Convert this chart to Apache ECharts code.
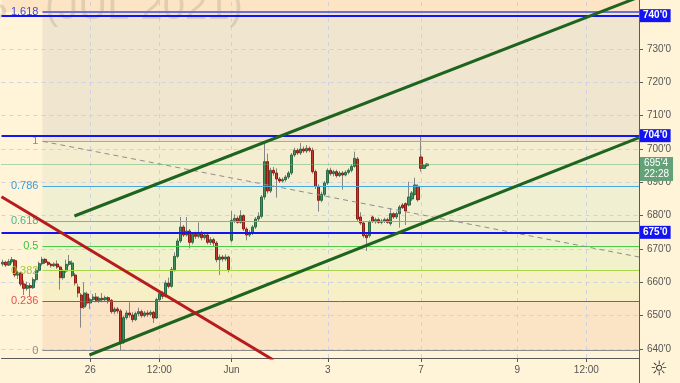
<!DOCTYPE html>
<html><head><meta charset="utf-8">
<script src="https://cdn.jsdelivr.net/npm/echarts@6/dist/echarts.min.js"></script>
<style>html,body{margin:0;padding:0;background:#FFF4D8;}#c{width:680px;height:383px;}</style>
</head><body><div id="c"></div>
<script>
// ---- data ----
// candles: [open, close, low, high]
const ohlc = [
[665.5,666.0,664.8,666.8],[666.0,665.2,664.6,666.5],[665.2,666.2,664.9,667.0],[666.2,666.8,665.6,667.6],
[666.5,662.2,661.5,667.0],[662.2,662.8,661.0,663.5],[662.8,659.5,658.8,663.2],[659.5,658.2,656.2,660.5],
[658.2,659.0,657.5,660.2],[659.0,658.4,655.8,659.8],[658.4,660.8,658.0,661.5],[660.8,663.6,660.2,664.2],
[663.6,665.6,663.0,666.2],[665.6,666.9,665.0,667.7],[666.9,666.0,665.5,667.3],[666.0,665.4,664.9,666.4],
[665.4,665.0,664.4,665.8],[665.0,665.5,664.6,666.0],[665.5,664.6,664.0,666.6],[664.6,661.4,657.8,665.0],
[661.4,663.4,660.8,664.0],[663.4,665.4,662.8,666.8],[665.4,666.2,664.8,668.2],[662.0,665.8,661.5,666.6],
[662.2,659.8,659.0,662.8],[658.6,656.8,655.5,659.6],[656.2,652.4,646.4,656.8],[652.6,656.8,652.0,660.0],
[656.5,653.8,653.0,657.2],[653.8,654.8,652.0,655.4],[654.8,655.6,654.2,656.5],[655.6,654.6,654.0,656.8],
[654.6,655.2,653.8,655.8],[655.2,654.8,654.0,656.8],[654.8,655.4,654.2,656.0],[655.4,654.6,653.6,655.8],
[654.6,651.2,650.6,655.0],[651.2,652.0,650.4,652.6],[652.0,651.4,650.6,652.6],[651.4,641.8,639.6,652.0],
[642.0,649.4,641.5,650.0],[649.4,650.8,648.8,651.6],[650.8,650.2,649.4,654.0],[650.2,648.8,648.0,651.0],
[648.8,650.6,648.4,651.2],[650.6,651.2,649.8,652.4],[651.2,650.0,649.4,651.8],[650.0,650.8,649.5,651.4],
[650.8,650.4,649.6,651.6],[650.4,651.0,649.8,651.6],[651.0,649.3,647.8,651.4],[649.3,654.8,649.0,655.4],
[654.8,656.6,654.2,657.2],[656.6,655.8,655.0,657.4],[655.8,659.8,655.4,660.6],[659.8,658.8,658.2,661.4],
[658.8,663.8,658.4,664.6],[663.8,667.8,663.2,669.0],[667.8,672.4,667.2,673.2],[672.4,676.6,671.8,679.6],
[676.6,674.2,673.6,677.2],[674.2,675.4,673.8,679.6],[675.4,672.0,670.2,676.0],[672.0,674.4,671.4,675.0],
[674.4,673.8,673.0,675.2],[673.8,674.8,673.2,678.0],[674.8,673.4,672.6,675.4],[673.4,674.2,672.8,675.0],
[674.2,672.0,671.4,674.8],[672.0,672.8,671.2,673.6],[672.8,671.8,670.6,673.4],[671.8,666.8,666.0,672.4],
[666.8,667.6,662.2,668.4],[667.6,667.0,666.2,668.2],[667.0,667.6,666.4,668.4],[667.6,663.8,663.0,668.0],
[672.6,678.6,672.0,681.4],[678.6,679.2,677.8,680.4],[679.2,678.0,677.6,679.8],[678.0,680.0,677.6,681.6],
[680.0,676.0,675.4,680.4],[676.0,674.2,672.6,676.6],[674.2,674.8,673.6,675.6],[674.8,676.6,674.2,677.2],
[676.6,679.0,676.0,679.6],[679.0,679.8,678.4,681.0],[679.8,685.6,679.2,686.2],[685.6,696.2,684.8,702.4],
[696.2,687.4,686.6,698.6],[687.4,693.6,686.8,694.4],[693.6,692.8,692.0,694.6],[692.8,691.0,685.4,694.2],
[691.0,690.4,689.8,691.6],[690.4,690.8,690.0,691.4],[690.8,691.6,690.2,692.2],[691.6,692.8,691.0,693.4],
[692.8,698.2,692.2,698.8],[698.2,699.6,697.6,700.4],[699.6,698.8,698.2,700.2],[698.8,700.0,698.2,701.8],
[700.0,699.4,698.8,700.8],[699.4,700.2,698.8,701.2],[700.2,699.6,699.0,700.8],[699.6,693.2,692.6,700.4],
[693.2,688.8,688.0,693.8],[688.8,684.6,681.2,689.4],[684.6,686.4,684.0,687.2],[686.4,689.8,685.8,690.4],
[689.8,693.6,689.2,694.2],[693.6,692.6,692.0,694.4],[692.6,693.2,691.8,693.8],[693.2,692.0,691.4,693.8],
[692.0,692.8,691.6,693.4],[692.8,692.2,687.8,693.4],[692.2,693.0,691.8,693.6],[693.0,693.6,692.4,694.2],
[693.6,694.8,693.0,695.4],[694.8,697.2,694.4,699.2],[697.0,679.0,678.4,697.6],[679.6,677.8,677.2,681.0],
[677.8,674.0,673.4,678.4],[674.2,673.4,669.4,675.0],[674.0,678.0,673.4,678.6],[679.6,678.2,677.8,680.0],
[678.2,678.8,677.6,679.4],[678.8,678.0,677.6,679.4],[678.0,678.4,677.4,679.0],[678.4,678.8,677.8,679.4],
[678.8,678.0,677.6,679.4],[677.6,680.6,677.0,682.2],[680.6,679.6,679.0,681.0],[679.6,680.6,679.0,681.2],
[680.6,682.6,676.4,683.2],[683.2,682.4,682.0,683.8],[683.6,681.4,677.2,684.0],[683.2,685.6,682.8,690.2],
[685.0,686.8,684.4,687.4],[686.4,689.2,686.0,691.4],[688.8,684.8,684.2,689.4],[697.6,694.2,693.2,704.2],
[694.2,695.0,694.0,695.4],[695.0,695.5,694.6,695.8]
];
const slotCount = 212;                       // bar slots on the time axis (incl. empty future)
const xTickIdx = [29, 52, 76, 108, 139, 171, 194];
const xTickLabels = ['26', '12:00', 'Jun', '3', '7', '9', '12:00'];
const yTickValues = [640, 650, 660, 670, 680, 690, 700, 710, 720, 730];
const yRange = [637.3, 744.7];
const fibLevels = ['0', '0.236', '0.382', '0.5', '0.618', '0.786', '1', '1.618'];
const fibPrices = [639.5, 654.3, 663.5, 670.9, 678.3, 688.9, 702.3, 741.1];
const fibAnchorIdx = 13.12;
const levelLines = [740, 704, 675];
const lastPrice = 695.5;
const countdown = '22:28';
const upperChannel = [[23.76, 679.9], [211.5, 745.6]];
const lowerChannel = [[28.74, 638.2], [211.5, 703.4]];
const redTrend = [[-0.5, 685.7], [89.9, 636.7]];
const fibDiagonal = [[13.2, 702.3], [211.5, 667.6]];

// ---- styles ----
const zoneColors = ['#FBE4C6', '#F7EFC6', '#F1F1CB', '#EEF0CE', '#F0EFD2', '#F5EDD0', '#F0E6CF'];
const topZoneColor = '#FCE4C5';
const fibLineColors = ['#8A8A8A', '#E53935', '#A8D64A', '#4CCB4C', '#5CC3A0', '#45A8E0', '#A8A8A8', '#7070D8'];
const fibLabelColors = ['#8A8A8A', '#E8504D', '#9ACD32', '#3CC43C', '#45B88E', '#3A9EDB', '#8A8A8A', '#4A4AD0'];

const fmt = v => { const w = Math.floor(v + 1e-9); return w + "'" + Math.round((v - w) * 8); };
const xMax = slotCount - 0.5;
const cats = Array.from({length: slotCount}, (_, i) => String(i));
const labelOf = i => { const k = xTickIdx.indexOf(i); return k >= 0 ? xTickLabels[k] : ''; };
const bodies = ohlc.map(d => [d[0], d[1], Math.min(d[0], d[1]), Math.max(d[0], d[1])]);

const zoneData = [];
for (let k = 0; k < fibPrices.length - 1; k++) {
  zoneData.push([{coord: [fibAnchorIdx, fibPrices[k]], itemStyle: {color: zoneColors[k]}}, {coord: [xMax, fibPrices[k + 1]]}]);
}
zoneData.push([{coord: [-0.5, fibPrices[fibPrices.length - 1]], itemStyle: {color: topZoneColor}}, {coord: [xMax, yRange[1]]}]);

const gridData = yTickValues.concat([740]).map(v => ({yAxis: v})).concat(xTickIdx.map(i => ({xAxis: i})));

const fibData = fibPrices.map((p, k) => [
  {coord: [fibAnchorIdx, p], lineStyle: {color: fibLineColors[k], width: (k === 7 ? 2 : 1), type: 'solid'},
   label: {show: true, position: 'start', distance: 4, formatter: fibLevels[k], color: fibLabelColors[k], fontSize: 11}},
  {coord: [xMax, p]}
]);

const levelData = levelLines.map(v => ({
  yAxis: v, lineStyle: {color: '#1414F0', width: 2, type: 'solid'},
  label: {show: true, position: 'end', distance: 1, formatter: fmt(v), backgroundColor: '#1414F0', color: '#fff',
          fontWeight: 'bold', fontSize: 10, padding: [2, 3, 1, 3]}
}));
levelData.push({
  yAxis: lastPrice, lineStyle: {color: '#5DB56E', width: 1, type: 'dotted'},
  label: {show: true, position: 'end', distance: 1, formatter: fmt(lastPrice) + '\n' + countdown, backgroundColor: '#64A078',
          color: '#fff', fontSize: 10, lineHeight: 11, padding: [1, 4, 1, 4], offset: [0, 5]}
});

const chart = echarts.init(document.getElementById('c'), null, {renderer: 'canvas', width: 680, height: 383});
chart.setOption({
  animation: false,
  backgroundColor: '#FFF4D8',
  textStyle: {fontFamily: 'Liberation Sans, Arial, sans-serif'},
  grid: {left: 0, right: 41, top: 0, bottom: 25},
  xAxis: [{
    type: 'category', data: cats,
    axisLine: {show: true, onZero: false, lineStyle: {color: '#5a5a5a', width: 1}},
    axisTick: {show: true, alignWithLabel: true, length: 4, interval: (i) => xTickIdx.indexOf(i) >= 0, lineStyle: {color: '#5a5a5a'}},
    axisLabel: {interval: 0, formatter: (v, i) => labelOf(i), color: '#555', fontSize: 10, margin: 7},
    splitLine: {show: false}
  }, {
    type: 'value', min: -0.5, max: xMax, show: false
  }],
  yAxis: {
    type: 'value', position: 'right', min: yRange[0], max: yRange[1],
    axisLine: {show: true, onZero: false, lineStyle: {color: '#5a5a5a'}},
    axisTick: {show: true, length: 4, customValues: yTickValues, lineStyle: {color: '#5a5a5a'}},
    axisLabel: {customValues: yTickValues, formatter: fmt, color: '#555', fontSize: 10, margin: 8},
    splitLine: {show: false}
  },
  graphic: [
    {type: 'text', x: 8, y: 8, z: 2, style: {text: 'S', font: '40px Liberation Sans', fill: 'rgba(110,100,90,0.18)', align: 'right', textAlign: 'right', verticalAlign: 'middle', textVerticalAlign: 'middle'}},
    {type: 'text', x: 45, y: 8, z: 2, style: {text: '(JUL 2021)', font: '40px Liberation Sans', fill: 'rgba(110,100,90,0.18)', align: 'left', textAlign: 'left', verticalAlign: 'middle', textVerticalAlign: 'middle'}},
    {type: 'line', z: 2, shape: {x1: 639.5, y1: 358, x2: 639.5, y2: 383}, style: {stroke: '#5a5a5a', lineWidth: 1}},
    {type: 'text', x: 659, y: 370, z: 2, style: {text: '\u263C', font: '20px DejaVu Sans', fill: '#333', align: 'center', textAlign: 'center', verticalAlign: 'middle', textVerticalAlign: 'middle'}}
  ],
  series: [
    {name: 'zones', type: 'line', xAxisIndex: 1, data: [], silent: true,
     markArea: {z: 0, silent: true, label: {show: false}, data: zoneData}},
    {name: 'grid', type: 'line', xAxisIndex: 1, data: [], silent: true,
     markLine: {z: 1, silent: true, symbol: ['none', 'none'], label: {show: false},
                lineStyle: {color: '#CDD2E3', type: [4, 4], width: 1}, data: gridData}},
    {name: 'wicks', type: 'candlestick', xAxisIndex: 0, data: ohlc, barWidth: 1, z: 3, silent: true,
     itemStyle: {color: '#858585', color0: '#858585', borderColor: '#858585', borderColor0: '#858585', borderWidth: 1}},
    {name: 'bodies', type: 'candlestick', xAxisIndex: 0, data: bodies, barWidth: 2.6, z: 3, silent: true,
     itemStyle: {color: '#3F8F5F', color0: '#C4392A', borderColor: '#2A6A44', borderColor0: '#8E1F16', borderWidth: 1}},
    {name: 'fib', type: 'line', xAxisIndex: 1, data: [], silent: true,
     markLine: {z: 4, silent: true, symbol: ['none', 'none'], data: fibData}},
    {name: 'fibDiag', type: 'line', xAxisIndex: 1, data: fibDiagonal, symbol: 'none', z: 5, silent: true,
     lineStyle: {color: '#8E8E8E', type: [5, 4], width: 1}},
    {name: 'levels', type: 'line', xAxisIndex: 1, data: [], silent: true,
     markLine: {z: 6, silent: true, symbol: ['none', 'none'], data: levelData}},
    {name: 'upper', type: 'line', xAxisIndex: 1, data: upperChannel, symbol: 'none', z: 7, silent: true,
     lineStyle: {color: '#1E641E', width: 3}},
    {name: 'lower', type: 'line', xAxisIndex: 1, data: lowerChannel, symbol: 'none', z: 7, silent: true,
     lineStyle: {color: '#1E641E', width: 3}},
    {name: 'red', type: 'line', xAxisIndex: 1, data: redTrend, symbol: 'none', z: 7, silent: true,
     lineStyle: {color: '#B71C1C', width: 3}}
  ]
});
</script></body></html>
